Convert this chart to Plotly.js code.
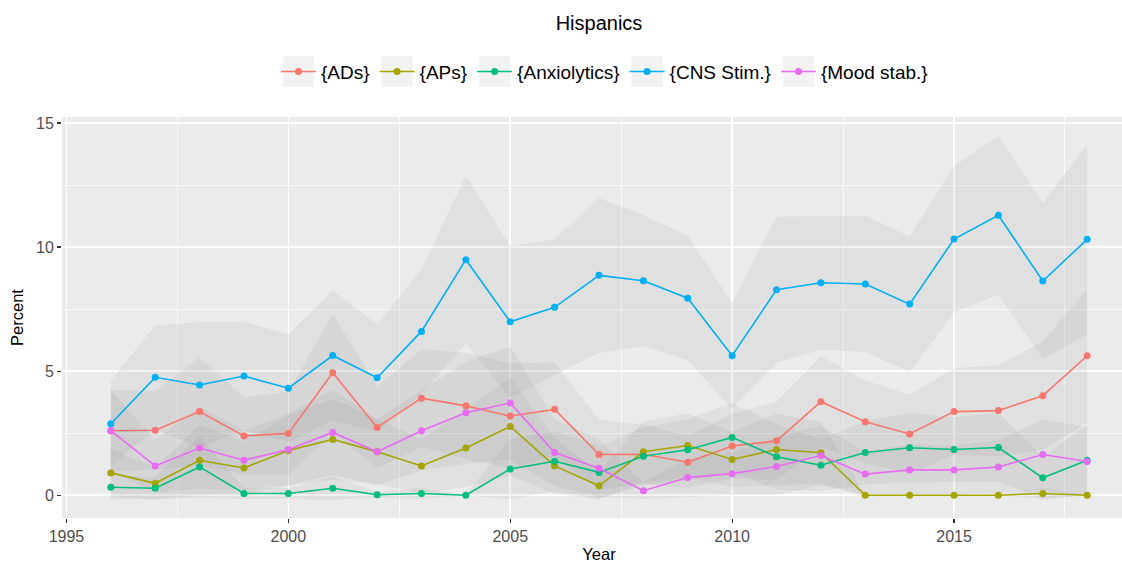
<!DOCTYPE html>
<html>
<head>
<meta charset="utf-8">
<script src="https://cdn.plot.ly/plotly-3.0.1.min.js"></script>
<style>
  html, body { margin: 0; padding: 0; overflow: hidden; background: #ffffff; }
  #chart { width: 1146px; height: 563px; }
</style>
</head>
<body>
<div id="chart"></div>
<script>
// ---------------- data ----------------
const years = [1996, 1997, 1998, 1999, 2000, 2001, 2002, 2003, 2004, 2005, 2006, 2007,
               2008, 2009, 2010, 2011, 2012, 2013, 2014, 2015, 2016, 2017, 2018];

const seriesNames = ["{ADs}", "{APs}", "{Anxiolytics}", "{CNS Stim.}", "{Mood stab.}"];

const adsValues   = [2.60, 2.62, 3.37, 2.39, 2.49, 4.93, 2.73, 3.91, 3.60, 3.19, 3.46, 1.64,
                     1.65, 1.33, 1.98, 2.19, 3.77, 2.96, 2.47, 3.37, 3.41, 4.01, 5.62];
const adsLower    = [0.96, 1.05, 1.20, 0.83, 0.82, 2.55, 1.08, 1.95, 1.46, 1.08, 1.56, 0.24,
                     0.45, 0.28, 0.68, 0.62, 1.94, 1.30, 0.89, 1.62, 1.58, 1.83, 2.90];
const adsUpper    = [4.24, 4.19, 5.54, 3.95, 4.16, 7.31, 4.38, 5.87, 5.74, 5.30, 5.36, 3.04,
                     2.85, 2.38, 3.28, 3.76, 5.60, 4.62, 4.05, 5.12, 5.24, 6.19, 8.30];

const apsValues   = [0.90, 0.48, 1.41, 1.10, 1.80, 2.25, 1.75, 1.18, 1.90, 2.77, 1.18, 0.38,
                     1.75, 2.00, 1.44, 1.84, 1.71, 0.00, 0.00, 0.00, 0.00, 0.07, 0.00];
const apsLower    = [-0.07, -0.15, 0.00, 0.04, 0.38, 0.62, 0.43, 0.09, 0.33, 0.80, 0.06, -0.17,
                     0.52, 0.71, 0.33, 0.40, 0.47, 0.00, 0.00, 0.00, 0.00, -0.15, 0.00];
const apsUpper    = [1.87, 1.11, 2.82, 2.16, 3.22, 3.88, 3.07, 2.27, 3.47, 4.74, 2.30, 0.93,
                     2.98, 3.29, 2.55, 3.28, 2.95, 0.00, 0.00, 0.00, 0.00, 0.29, 0.00];

const anxValues   = [0.32, 0.28, 1.14, 0.07, 0.07, 0.28, 0.02, 0.07, 0.00, 1.06, 1.37, 0.92,
                     1.57, 1.83, 2.33, 1.55, 1.21, 1.72, 1.91, 1.84, 1.92, 0.70, 1.41];
const anxLower    = [-0.17, -0.17, -0.10, -0.15, -0.15, -0.18, -0.10, -0.15, 0.00, -0.15, 0.16, -0.13,
                     0.40, 0.60, 0.93, 0.23, 0.16, 0.45, 0.51, 0.54, 0.53, -0.15, 0.00];
const anxUpper    = [0.81, 0.73, 2.38, 0.29, 0.29, 0.74, 0.14, 0.29, 0.00, 2.27, 2.58, 1.97,
                     2.74, 3.06, 3.73, 2.87, 2.26, 2.99, 3.31, 3.14, 3.31, 1.55, 2.82];

const cnsValues   = [2.88, 4.75, 4.44, 4.80, 4.31, 5.63, 4.73, 6.60, 9.49, 6.99, 7.57, 8.86,
                     8.64, 7.94, 5.62, 8.28, 8.56, 8.51, 7.70, 10.32, 11.28, 8.63, 10.31];
const cnsLower    = [1.16, 2.66, 1.90, 2.62, 2.14, 3.01, 2.58, 4.10, 6.12, 3.94, 4.83, 5.74,
                     6.00, 5.44, 3.48, 5.34, 5.87, 5.77, 4.98, 7.37, 8.08, 5.50, 6.48];
const cnsUpper    = [4.60, 6.84, 6.98, 6.98, 6.48, 8.25, 6.88, 9.10, 12.86, 10.04, 10.31, 11.98,
                     11.28, 10.44, 7.76, 11.22, 11.25, 11.25, 10.42, 13.27, 14.48, 11.76, 14.14];

const moodValues  = [2.60, 1.18, 1.90, 1.41, 1.84, 2.53, 1.75, 2.60, 3.32, 3.72, 1.72, 1.09,
                     0.18, 0.71, 0.87, 1.16, 1.60, 0.85, 1.02, 1.02, 1.14, 1.64, 1.36];
const moodLower   = [0.96, 0.12, 0.26, 0.21, 0.40, 0.80, 0.43, 0.99, 1.26, 1.45, 0.37, -0.05,
                     -0.15, -0.06, 0.01, 0.01, 0.40, -0.05, -0.01, 0.05, 0.07, 0.23, -0.03];
const moodUpper   = [4.24, 2.24, 3.54, 2.61, 3.28, 4.26, 3.07, 4.21, 5.38, 5.99, 3.07, 2.23,
                     0.51, 1.48, 1.73, 2.31, 2.80, 1.75, 2.05, 1.99, 2.21, 3.05, 2.75];

const xTickVals = [1995, 2000, 2005, 2010, 2015];
const yTickVals = [0, 5, 10, 15];

// ---------------- styling ----------------
const colors = ["#F8766D", "#A3A500", "#00BF7D", "#00B0F6", "#E76BF3"];
const FONT = "Liberation Sans, Arial, Helvetica, sans-serif";
const ribbonFill = "rgba(128,128,128,0.10)";

const valueSets = [adsValues, apsValues, anxValues, cnsValues, moodValues];
const lowerSets = [adsLower, apsLower, anxLower, cnsLower, moodLower];
const upperSets = [adsUpper, apsUpper, anxUpper, cnsUpper, moodUpper];

const traces = [];
// confidence ribbons first (drawn underneath)
for (let i = 0; i < seriesNames.length; i++) {
  traces.push({
    x: years, y: lowerSets[i], type: "scatter", mode: "lines",
    line: { width: 0, color: "rgba(0,0,0,0)" }, showlegend: false, hoverinfo: "skip"
  });
  traces.push({
    x: years, y: upperSets[i], type: "scatter", mode: "lines",
    line: { width: 0, color: "rgba(0,0,0,0)" }, fill: "tonexty", fillcolor: ribbonFill,
    showlegend: false, hoverinfo: "skip"
  });
}
// lines + points
for (let i = 0; i < seriesNames.length; i++) {
  traces.push({
    x: years, y: valueSets[i], name: seriesNames[i], type: "scatter", mode: "lines+markers",
    line: { color: colors[i], width: 1.6 },
    marker: { color: colors[i], size: 7 }
  });
}

const axisCommon = {
  showline: false, zeroline: false,
  gridcolor: "#FFFFFF", gridwidth: 1.5,
  ticks: "outside", ticklen: 4, tickwidth: 1.1, tickcolor: "#333333",
  tickfont: { family: FONT, size: 16, color: "#4D4D4D" },
  automargin: false
};

const layout = {
  width: 1146, height: 563,
  margin: { l: 62, r: 10, t: 117, b: 44.5, pad: 0 },
  paper_bgcolor: "#FFFFFF",
  plot_bgcolor: "#EBEBEB",
  font: { family: FONT, color: "#000000" },
  title: {
    text: "Hispanics", x: 0.5, xref: "paper", xanchor: "center",
    y: 0.959, yref: "container", yanchor: "middle",
    font: { family: FONT, size: 20, color: "#000000" }
  },
  xaxis: Object.assign({}, axisCommon, {
    range: [1994.9, 2019.1],
    tickmode: "array", tickvals: xTickVals, ticktext: xTickVals.map(String),
    minor: { dtick: 2.5, tick0: 1995, showgrid: true, gridcolor: "#FFFFFF", gridwidth: 0.7, ticks: "" },
    title: { text: "Year", font: { family: FONT, size: 16.5, color: "#000000" }, standoff: 7 }
  }),
  yaxis: Object.assign({}, axisCommon, {
    range: [-0.918, 15.24],
    tickmode: "array", tickvals: yTickVals, ticktext: yTickVals.map(String),
    minor: { dtick: 2.5, tick0: 0, showgrid: true, gridcolor: "#FFFFFF", gridwidth: 0.7, ticks: "" },
    title: { text: "Percent", font: { family: FONT, size: 16.5, color: "#000000" }, standoff: 8 }
  }),
  showlegend: true,
  legend: {
    orientation: "h", x: 0.5051, xanchor: "center", xref: "paper",
    y: 1.113, yanchor: "middle", yref: "paper",
    traceorder: "normal", itemwidth: 35,
    bgcolor: "rgba(0,0,0,0)", borderwidth: 0,
    font: { family: FONT, size: 19, color: "#000000" },
    itemclick: false, itemdoubleclick: false
  },
  hovermode: false
};

const gd = document.getElementById("chart");
Plotly.newPlot(gd, traces, layout, { staticPlot: true, displayModeBar: false }).then(function () {
  // grey key boxes behind the legend symbols (ggplot style legend keys)
  const root = gd.getBoundingClientRect();
  const fs = gd._fullLayout._size;
  const shapes = [];
  gd.querySelectorAll(".legend .traces").forEach(function (item) {
    const ln = item.querySelector(".legendlines path") || item.querySelector(".legendpoints path");
    if (!ln) return;
    const r = ln.getBoundingClientRect();
    const cx = (r.left + r.right) / 2 - root.left;
    const cy = (r.top + r.bottom) / 2 - root.top;
    const half = 15.5;
    shapes.push({
      type: "rect", xref: "paper", yref: "paper", layer: "below",
      x0: (cx - half - fs.l) / fs.w, x1: (cx + half - fs.l) / fs.w,
      y0: 1 - (cy + half - fs.t) / fs.h, y1: 1 - (cy - half - fs.t) / fs.h,
      fillcolor: "#F2F2F2", line: { width: 0 }
    });
  });
  return Plotly.relayout(gd, { shapes: shapes });
});
</script>
</body>
</html>
